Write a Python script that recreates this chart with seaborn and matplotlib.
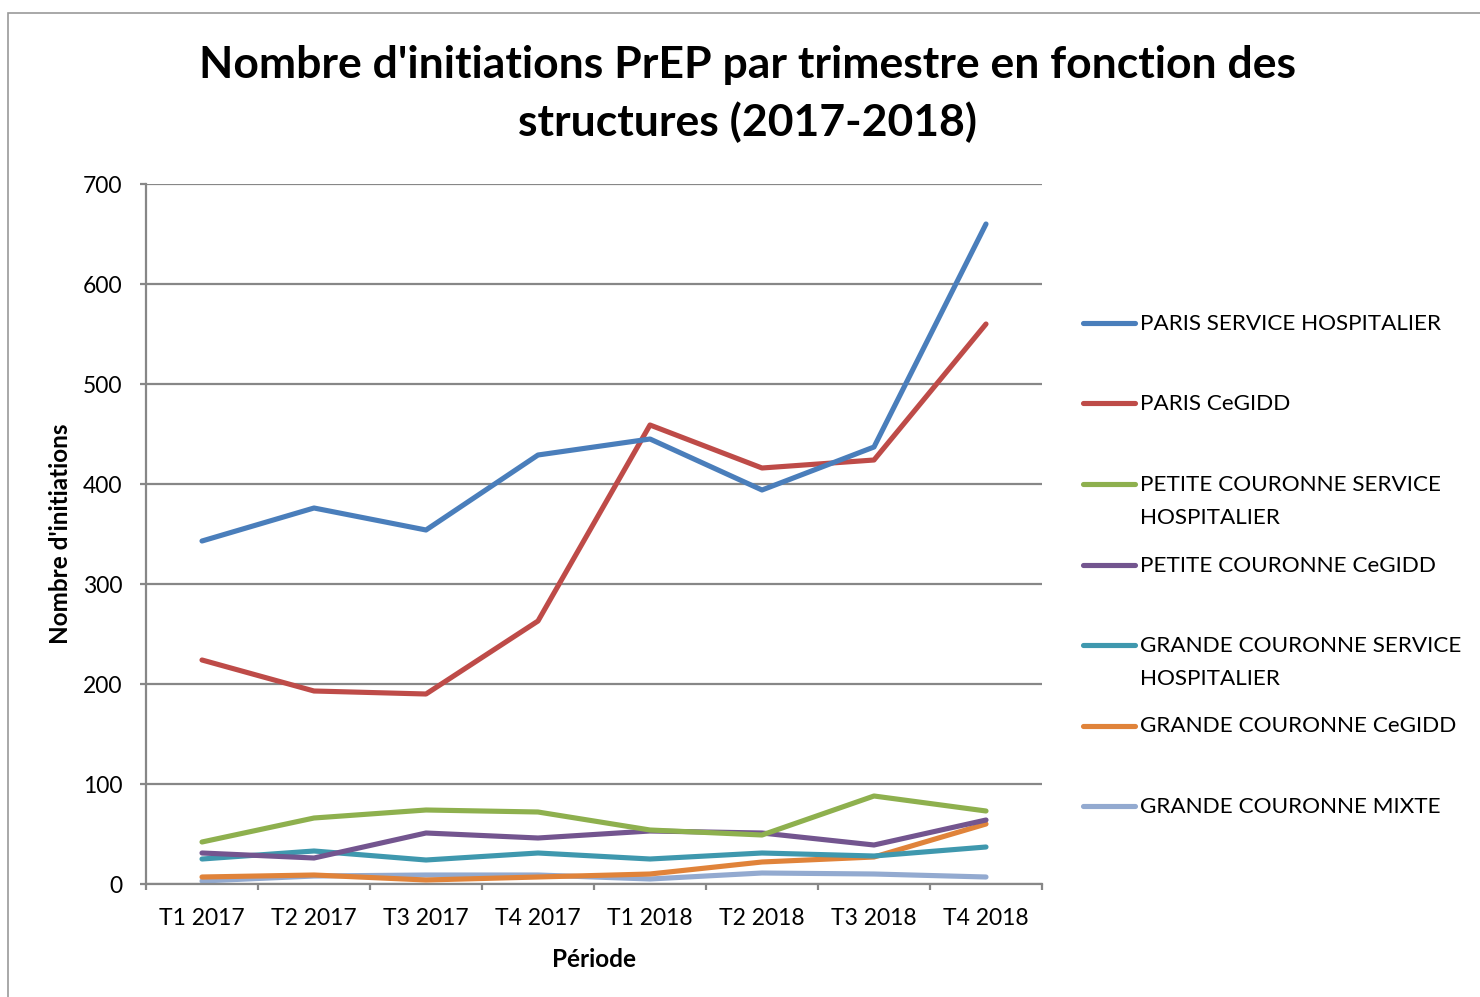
import pandas as pd
import seaborn as sns
import matplotlib.pyplot as plt
from matplotlib.lines import Line2D
from matplotlib.patches import Rectangle

# =============================================================================
# Data
# =============================================================================

periods = ['T1 2017', 'T2 2017', 'T3 2017', 'T4 2017',
           'T1 2018', 'T2 2018', 'T3 2018', 'T4 2018']

paris_sh = [343, 376, 354, 429, 445, 394, 437, 660]
paris_cegidd = [224, 193, 190, 263, 459, 416, 424, 560]
petite_sh = [42, 66, 74, 72, 54, 49, 88, 73]
petite_cegidd = [31, 26, 51, 46, 53, 51, 39, 64]
grande_sh = [25, 33, 24, 31, 25, 31, 28, 37]
grande_cegidd = [7, 9, 4, 7, 10, 22, 27, 60]
grande_mixte = [3, 8, 9, 9, 5, 11, 10, 7]

series_names = [
    'PARIS SERVICE HOSPITALIER',
    'PARIS CeGIDD',
    'PETITE COURONNE SERVICE HOSPITALIER',
    'PETITE COURONNE CeGIDD',
    'GRANDE COURONNE SERVICE HOSPITALIER',
    'GRANDE COURONNE CeGIDD',
    'GRANDE COURONNE MIXTE',
]
legend_labels = [
    'PARIS SERVICE HOSPITALIER',
    'PARIS CeGIDD',
    'PETITE COURONNE SERVICE\nHOSPITALIER',
    'PETITE COURONNE CeGIDD',
    'GRANDE COURONNE SERVICE\nHOSPITALIER',
    'GRANDE COURONNE CeGIDD',
    'GRANDE COURONNE MIXTE',
]
series_values = [paris_sh, paris_cegidd, petite_sh, petite_cegidd,
                 grande_sh, grande_cegidd, grande_mixte]

colors = ['#4A7EBB', '#BE4B48', '#8EB04E', '#73558F',
          '#3F98AE', '#E0833A', '#93AAD0']

df = pd.DataFrame({
    'periode': periods * len(series_names),
    'x': list(range(len(periods))) * len(series_names),
    'structure': [n for n in series_names for _ in periods],
    'valeur': [v for vals in series_values for v in vals],
})

# =============================================================================
# Plot
# =============================================================================

sns.set_theme(style='white')
plt.rcParams['font.family'] = ['Lato', 'DejaVu Sans']
plt.rcParams['text.color'] = 'black'
plt.rcParams['axes.labelcolor'] = 'black'
plt.rcParams['xtick.color'] = 'black'
plt.rcParams['ytick.color'] = 'black'

W, H = 1480, 997
fig = plt.figure(figsize=(W / 100, H / 100), dpi=100)
ax = fig.add_axes([146 / W, 1 - 884 / H, (1042 - 146) / W, (884 - 184) / H])

# draw in reverse so the first series stays on top
for name, col in reversed(list(zip(series_names, colors))):
    sns.lineplot(data=df[df['structure'] == name], x='x', y='valeur',
                 color=col, lw=3.7, ax=ax, legend=False, sort=False,
                 solid_capstyle='round', solid_joinstyle='round')

gray = '#878787'
ax.set_xlim(-0.5, 7.5)
ax.set_ylim(0, 700)
ax.set_yticks(range(0, 701, 100))
ax.set_xticks(range(len(periods)))
ax.set_xticklabels(periods)
ax.set_xticks([i - 0.5 for i in range(len(periods) + 1)], minor=True)
ax.yaxis.grid(True, color=gray, lw=1.6)
ax.set_axisbelow(True)
for s in ['top', 'right']:
    ax.spines[s].set_visible(False)
for s in ['left', 'bottom']:
    ax.spines[s].set_color(gray)
    ax.spines[s].set_linewidth(1.6)
ax.tick_params(axis='y', which='major', length=4.3, width=1.6, color=gray,
               labelsize=16.5, pad=12.5, left=True, labelcolor='black')
ax.tick_params(axis='x', which='major', length=0, labelsize=16.5, pad=17,
               labelcolor='black')
ax.tick_params(axis='x', which='minor', length=4.5, width=1.6, color=gray,
               bottom=True)

ax.set_xlabel('Période', fontsize=17.5, fontweight='bold', labelpad=14)
ax.set_ylabel("Nombre d'initiations", fontsize=17.5, fontweight='bold', labelpad=8)

fig.text(748 / W, 1 - 94 / H,
         "Nombre d'initiations PrEP par trimestre en fonction des\nstructures (2017-2018)",
         ha='center', va='center', fontsize=32, fontweight='bold',
         linespacing=1.48)

# legend, Excel style: fixed pitch, handle on first text line
for i, (lab, col) in enumerate(zip(legend_labels, colors)):
    y = 323 + 80.5 * i
    fig.add_artist(Line2D([1083 / W, 1135 / W], [1 - y / H] * 2, color=col,
                          lw=3.7, solid_capstyle='round'))
    fig.text(1140 / W, 1 - (y - 9) / H, lab, ha='left', va='top',
             fontsize=16.2, linespacing=1.82)

fig.add_artist(Rectangle((8 / W, -0.01), 1.1, 1 - 13 / H + 0.01,
                         transform=fig.transFigure, fill=False,
                         edgecolor='#9a9a9a', lw=1.2))

fig.savefig('out.png', dpi=100)
